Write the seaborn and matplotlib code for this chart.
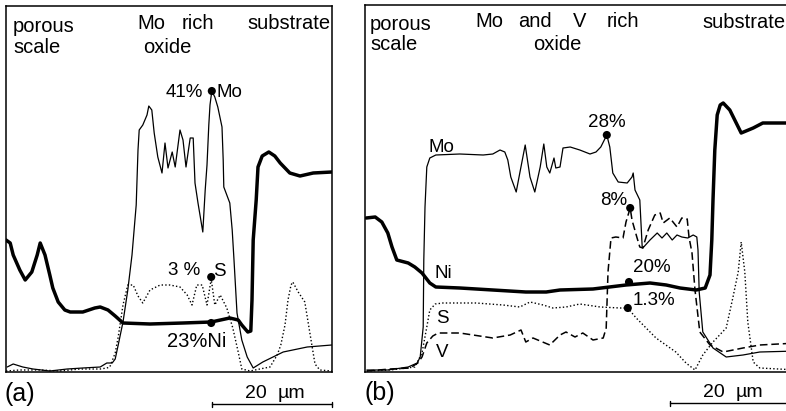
import numpy as np
import pandas as pd
import matplotlib
matplotlib.use("Agg")
import matplotlib.pyplot as plt
import seaborn as sns

# ---------------- data (distance in µm, intensity in arbitrary counts) -------------
# Panel (a)
a_ni_x = [0.0, 0.7, 1.2, 2.3, 3.2, 4.3, 5.2, 5.7, 6.5, 7.3, 7.8, 8.7, 9.8, 10.7, 12.8, 14.8, 15.7, 17.0,
          18.2, 19.5, 24.0, 29.5, 34.2, 37.3, 38.7, 39.3, 40.3, 40.8, 41.0, 41.2, 41.7, 42.0, 42.7, 43.8,
          44.8, 45.7, 47.3, 49.0, 51.2, 54.3]
a_ni_y = [132, 129, 117, 102, 92, 100, 117, 129, 117, 97, 84, 70, 62, 60, 60, 64, 65, 62,
          56, 49, 48, 49, 50, 54, 52, 47, 40, 41, 72, 132, 172, 205, 216, 220,
          216, 209, 199, 196, 199, 200]

a_mo_x = [0.2, 1.2, 2.8, 4.5, 7.3, 10.2, 12.8, 15.7, 16.8, 17.7, 18.2, 18.7, 19.5, 20.3, 21.0, 21.7,
          22.0, 22.2, 22.8, 23.5, 23.8, 24.3, 24.7, 25.3, 26.0, 26.5, 27.0, 27.7, 28.2, 29.0, 29.5,
          30.0, 30.7, 31.2, 31.5, 32.0, 32.8, 33.2, 33.5, 33.8, 34.0, 34.3, 34.8, 35.3, 36.0, 36.2,
          36.3, 37.3, 37.7, 38.0, 38.5, 39.3, 40.2, 41.2, 42.8, 46.2, 50.2, 54.3]
a_mo_y = [5, 8, 5, 3, 1, 3, 4, 5, 9, 9, 13, 27, 50, 82, 117, 167,
          222, 242, 247, 257, 266, 262, 239, 215, 199, 229, 204, 220, 205, 242, 232,
          205, 234, 234, 189, 169, 140, 182, 207, 247, 267, 281, 275, 265, 245, 212,
          185, 169, 142, 112, 59, 32, 15, 4, 10, 20, 25, 27]

a_s_x = [0.0, 2.3, 5.7, 9.0, 12.3, 15.7, 16.8, 17.3, 18.2, 18.7, 19.5, 20.3, 21.2, 22.0, 22.8, 24.0,
         25.7, 27.3, 29.0, 30.2, 31.0, 31.8, 32.7, 33.5, 34.2, 34.8, 35.7, 36.8, 37.8, 38.7, 39.3,
         40.7, 42.3, 44.0, 45.2, 45.8, 46.5, 47.0, 47.5, 47.8, 48.7, 49.8, 50.7, 51.5, 52.3, 54.3]
a_s_y = [1, 2, 2, 1, 3, 3, 4, 5, 19, 35, 67, 87, 87, 76, 69, 82,
         87, 87, 85, 77, 67, 87, 87, 67, 93, 67, 77, 64, 44, 20, 3,
         1, 3, 5, 17, 27, 47, 72, 87, 90, 80, 70, 37, 8, 2, 1]

a_mark_x = [34.3, 34.2, 34.2]
a_mark_y = [281, 95, 49]

# Panel (b)
b_ni_x = [0.2, 1.7, 2.8, 3.8, 4.5, 5.3, 7.2, 8.3, 9.5, 10.8, 11.8, 15.8, 21.3, 26.8, 30.2, 32.5,
          38.0, 43.5, 47.5, 50.2, 52.5, 55.2, 56.7, 57.5, 57.8, 58.0, 58.3, 58.7, 59.2, 59.7,
          60.8, 62.7, 64.7, 66.3, 72.0]
b_ni_y = [154, 155, 150, 139, 125, 112, 109, 105, 99, 89, 85, 84, 82, 80, 80, 82,
          83, 87, 89, 87, 84, 82, 84, 97, 132, 172, 222, 257, 267, 269,
          262, 239, 244, 249, 249]

b_mo_x = [0.3, 3.8, 7.2, 8.7, 9.2, 9.7, 9.8, 10.0, 10.3, 10.8, 11.8, 15.8, 19.7, 21.3, 22.5, 23.3,
          23.8, 24.3, 25.2, 25.8, 26.7, 27.5, 28.3, 29.2, 29.8, 30.3, 30.8, 31.5, 31.8, 32.5,
          33.0, 34.2, 35.8, 37.5, 38.5, 39.3, 40.3, 40.8, 41.3, 42.2, 43.7, 44.5, 44.7, 45.0,
          45.8, 46.2, 46.3, 47.5, 48.7, 49.5, 50.3, 51.2, 52.0, 52.8, 53.8, 54.7, 55.3, 55.5,
          55.7, 56.3, 58.0, 60.2, 63.0, 65.8, 72.0]
b_mo_y = [2, 2, 5, 9, 15, 45, 112, 165, 205, 214, 217, 218, 217, 218, 222, 220,
          212, 195, 180, 199, 227, 195, 180, 205, 228, 205, 199, 214, 204, 205,
          224, 225, 222, 218, 220, 225, 237, 225, 199, 190, 189, 195, 199, 182,
          172, 125, 124, 132, 139, 134, 139, 132, 137, 135, 134, 137, 135, 122,
          80, 40, 24, 15, 17, 20, 21]

b_v_x = [0.3, 4.2, 7.5, 8.8, 9.5, 10.3, 11.3, 12.2, 15.8, 21.3, 24.2, 26.0, 26.8, 28.0, 30.8, 32.5,
         33.5, 35.0, 36.3, 38.0, 39.7, 40.2, 40.5, 41.0, 41.8, 43.0, 43.5, 44.2, 44.5, 45.3,
         45.8, 46.3, 47.2, 48.3, 49.2, 49.7, 50.8, 52.0, 52.8, 53.7, 54.0, 54.5, 55.0, 55.8,
         57.5, 59.7, 63.0, 65.8, 72.0]
b_v_y = [1, 3, 4, 9, 15, 29, 36, 39, 39, 34, 37, 42, 30, 34, 27, 37,
         40, 35, 39, 32, 34, 44, 100, 134, 135, 134, 150, 164, 152, 135,
         125, 124, 142, 157, 159, 149, 154, 145, 154, 153, 135, 119, 82, 40,
         27, 20, 24, 27, 29]

b_s_x = [0.3, 4.2, 8.3, 9.5, 10.3, 10.8, 11.7, 13.0, 18.5, 23.0, 25.8, 27.5, 29.7, 31.3, 33.5,
         35.8, 39.2, 42.5, 43.8, 45.2, 48.5, 51.8, 53.5, 55.0, 56.3, 58.0, 60.2, 61.3, 62.2,
         62.7, 63.3, 63.8, 64.7, 65.8, 72.0]
b_s_y = [1, 2, 5, 19, 45, 62, 68, 69, 69, 67, 65, 70, 67, 64, 65,
         68, 65, 64, 64, 54, 34, 20, 9, 2, 17, 30, 44, 74, 100,
         130, 100, 50, 10, 4, 2]

b_mark_x = [40.3, 44.2, 44.0, 43.8]
b_mark_y = [237, 164, 90, 64]

# ---------------- figure ----------------
sns.set_theme(style="white")
plt.rcParams['font.family'] = ['Liberation Sans', 'DejaVu Sans']

W, H = 786, 411
fig = plt.figure(figsize=(W / 100, H / 100), dpi=100)


def fx(px):
    return px / W


def fy(py):
    return 1 - py / H


ax_a = fig.add_axes([fx(6), fy(372), (332 - 6) / W, (372 - 6) / H])
ax_b = fig.add_axes([fx(365), fy(372), (797 - 365) / W, (372 - 5) / H])

ax_a.set_xlim(0, 326 / 6)
ax_a.set_ylim(0, 366)
ax_b.set_xlim(0, 432 / 6)
ax_b.set_ylim(0, 367)

thick = dict(color='black', lw=2.5, solid_capstyle='round', solid_joinstyle='round')
thin = dict(color='black', lw=0.9)
dotted = dict(color='black', lw=1.0, linestyle=(0, (1, 1.6)))
dashed = dict(color='black', lw=1.1, linestyle=(0, (5, 2.5)))


def draw(ax, x, y, style):
    sns.lineplot(x=x, y=y, ax=ax, sort=False, estimator=None, legend=False, **style)


draw(ax_a, a_s_x, a_s_y, dotted)
draw(ax_a, a_mo_x, a_mo_y, thin)
draw(ax_a, a_ni_x, a_ni_y, thick)
sns.scatterplot(x=a_mark_x, y=a_mark_y, ax=ax_a, color='black', s=34, edgecolor='none', zorder=5)

draw(ax_b, b_s_x, b_s_y, dotted)
draw(ax_b, b_v_x, b_v_y, dashed)
draw(ax_b, b_mo_x, b_mo_y, thin)
draw(ax_b, b_ni_x, b_ni_y, thick)
sns.scatterplot(x=b_mark_x, y=b_mark_y, ax=ax_b, color='black', s=34, edgecolor='none', zorder=5)

for ax in (ax_a, ax_b):
    ax.set_xticks([])
    ax.set_yticks([])
    ax.set_xlabel('')
    ax.set_ylabel('')
    ax.set_facecolor('white')
    for sp in ax.spines.values():
        sp.set_color('black')
        sp.set_linewidth(1.1)
        sp.set_visible(True)
ax_b.spines['right'].set_visible(False)

# scale bars (20 µm in data units)
for ax, x0, ybar in ((ax_a, 34.3, -32), (ax_b, 50.8, -31)):
    ax.plot([x0, x0 + 20], [ybar, ybar], color='black', lw=1.0, clip_on=False)
    ax.plot([x0, x0], [ybar - 2.5, ybar + 2.5], color='black', lw=1.0, clip_on=False)
    ax.plot([x0 + 20, x0 + 20], [ybar - 2.5, ybar + 2.5], color='black', lw=1.0, clip_on=False)

HDR = 14.5
ANN = 13.5


def t(px, py, s, size=HDR):
    fig.text(fx(px), fy(py), s, fontsize=size, color='black', va='baseline', ha='left')


# headers panel (a)
t(13, 32, 'porous')
t(13, 53, 'scale')
t(137, 29, 'Mo')
t(182, 29, 'rich')
t(143, 53, 'oxide')
t(247, 29, 'substrate')
# headers panel (b)
t(370, 30, 'porous')
t(370, 50, 'scale')
t(475, 27, 'Mo')
t(518, 27, 'and')
t(573, 27, 'V')
t(607, 27, 'rich')
t(533, 50, 'oxide')
t(702, 28, 'substrate')

# annotations panel (a)
t(166, 97, '41%', ANN)
t(217, 97, 'Mo', ANN)
t(168, 275, '3 %', ANN)
t(213, 276, 'S', ANN)
t(167, 347, '23%Ni', 14.5)

# annotations panel (b)
t(428, 152, 'Mo', ANN)
t(588, 127, '28%', ANN)
t(600, 205, '8%', ANN)
t(435, 278, 'Ni', ANN)
t(633, 272, '20%', ANN)
t(633, 305, '1.3%', ANN)
t(436, 323, 'S', ANN)
t(436, 357, 'V', ANN)

# panel labels and scale text
t(4, 401, '(a)', 18)
t(364, 400, '(b)', 18)
t(245, 398, '20', 14)
t(278, 398, 'µm', 14)
t(703, 397, '20', 14)
t(736, 397, 'µm', 14)

fig.savefig('out.png', dpi=100, facecolor='white')
